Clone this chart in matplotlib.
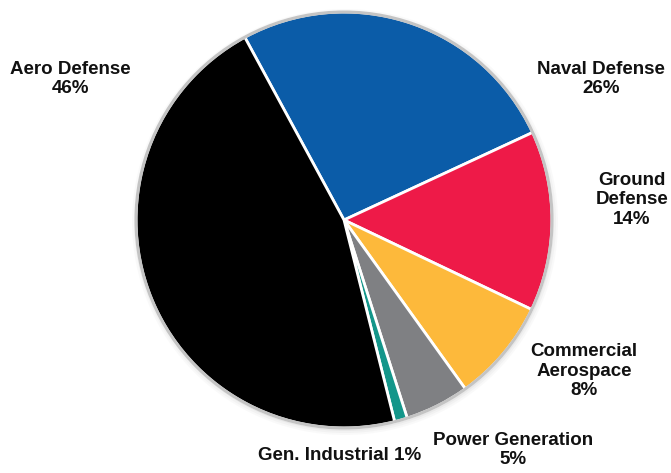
import matplotlib.pyplot as plt
from matplotlib.patches import Circle

segments = ["Naval Defense", "Ground Defense", "Commercial Aerospace",
            "Power Generation", "Gen. Industrial", "Aero Defense"]
shares = [26, 14, 8, 5, 1, 46]
colors = ["#0b5ca8", "#ee1a48", "#fdb93b", "#7f8083", "#13968a", "#000000"]

W, H = 671, 473
cx, cy, r = 344, H - 220, 208

fig = plt.figure(figsize=(W / 100, H / 100), dpi=100)
ax = fig.add_axes([0, 0, 1, 1])

# soft grey halo behind the pie
for k, a in enumerate([0.05, 0.07, 0.1]):
    ax.add_patch(Circle((cx + 1, cy - 2), r + 5 - 2 * k, color="#9a9a9a",
                        alpha=a, lw=0, zorder=0))

ax.pie(shares, colors=colors, startangle=118.5, counterclock=False,
       center=(cx, cy), radius=r, frame=True,
       wedgeprops=dict(edgecolor="white", linewidth=2.0))
ax.add_patch(Circle((cx, cy), r, fill=False, edgecolor="#c4c4c4", lw=2.2, zorder=5))
ax.set_xlim(0, W)
ax.set_ylim(0, H)
ax.set_aspect("equal")
ax.axis("off")

font = dict(family=["Liberation Sans Narrow", "Liberation Sans", "DejaVu Sans"],
            fontweight="bold", fontsize=13.5, color="#111111",
            ha="center", va="center", linespacing=1.2)

ax.text(70, H - 79, "Aero Defense\n46%", **font)
ax.text(601, H - 79, "Naval Defense\n26%", **font)
ax.text(632, H - 200, "Ground\nDefense\n14%", **font)
ax.text(584, H - 371, "Commercial\nAerospace\n8%", **font)
ax.text(513, H - 450, "Power Generation\n5%", **font)
ax.text(340, H - 455, "Gen. Industrial 1%", **font)

fig.savefig("out.png", dpi=100)
